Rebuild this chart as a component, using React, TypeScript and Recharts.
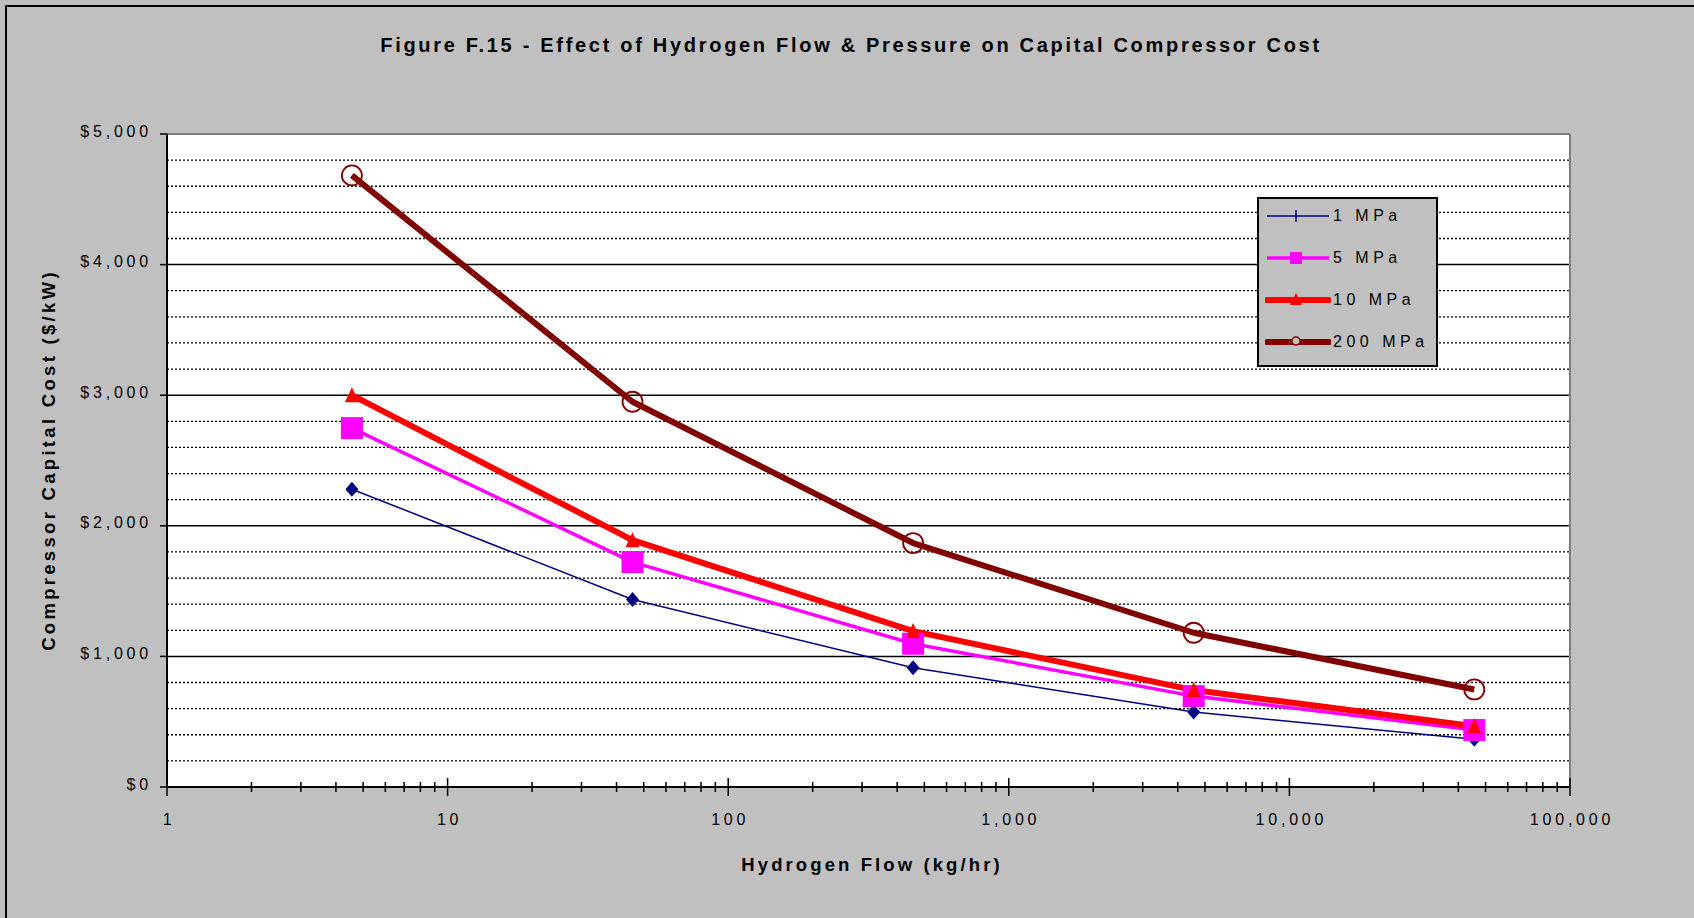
import React from 'react';
import { LineChart, Line, XAxis, YAxis, ReferenceLine, ReferenceArea, Legend } from 'recharts';

const flows = [4.56, 45.6, 456, 4560, 45600];
const mpa1 = [2280, 1436, 913, 574, 365];
const mpa5 = [2748, 1722, 1097, 696, 436];
const mpa10 = [3000, 1890, 1194, 742, 466];
const mpa200 = [4683, 2950, 1868, 1181, 747];
const seriesNames = ['1 MPa', '5 MPa', '10 MPa', '200 MPa'];
const seriesKeys = ['p1', 'p5', 'p10', 'p200'];
const seriesColors = ['#000080', '#FF00FF', '#FF0000', '#800000'];
const seriesWidths = [1.5, 3.5, 6, 6];
const yMajorTicks = [0, 1000, 2000, 3000, 4000, 5000];
const yMinorGrid = [200, 400, 600, 800, 1200, 1400, 1600, 1800, 2200, 2400, 2600, 2800, 3200, 3400, 3600, 3800, 4200, 4400, 4600, 4800];
const xTicks = [
  1, 2, 3, 4, 5, 6, 7, 8, 9,
  10, 20, 30, 40, 50, 60, 70, 80, 90,
  100, 200, 300, 400, 500, 600, 700, 800, 900,
  1000, 2000, 3000, 4000, 5000, 6000, 7000, 8000, 9000,
  10000, 20000, 30000, 40000, 50000, 60000, 70000, 80000, 90000,
  100000,
];
const xLabelTicks = [1, 10, 100, 1000, 10000, 100000];

const data = flows.map((f, i) => ({ flow: f, p1: mpa1[i], p5: mpa5[i], p10: mpa10[i], p200: mpa200[i] }));

const FONT = '"Liberation Sans", Arial, sans-serif';

const XTick = (props: any) => {
  const { x, y, payload } = props;
  const v = payload.value;
  const major = xLabelTicks.some((t) => Math.abs(t - v) / t < 1e-6);
  const h = major ? 9 : 5;
  return (
    <g>
      <line x1={x} x2={x} y1={y - h} y2={y + h} stroke="#000" strokeWidth={1.5} />
      {major && (
        <text x={x + 2} y={y + 32} textAnchor="middle" dominantBaseline="central" fontFamily={FONT} fontSize={16} letterSpacing={3.8} fill="#000">
          {Math.round(v).toLocaleString('en-US')}
        </text>
      )}
    </g>
  );
};

const YTick = (props: any) => {
  const { x, y, payload } = props;
  return (
    <text x={x + 3} y={y - 3} textAnchor="end" dominantBaseline="central" fontFamily={FONT} fontSize={16} letterSpacing={3.8} fill="#000">
      {'$' + payload.value.toLocaleString('en-US')}
    </text>
  );
};

const Diamond = (props: any) => {
  const { cx, cy } = props;
  if (cx == null || cy == null) return null;
  return <path d={`M${cx},${cy - 7.5} L${cx + 6.5},${cy} L${cx},${cy + 7.5} L${cx - 6.5},${cy} Z`} fill="#000080" />;
};
const Square = (props: any) => {
  const { cx, cy } = props;
  if (cx == null || cy == null) return null;
  return <rect x={cx - 11} y={cy - 11} width={22} height={22} fill="#FF00FF" />;
};
const Triangle = (props: any) => {
  const { cx, cy } = props;
  if (cx == null || cy == null) return null;
  return <path d={`M${cx},${cy - 8} L${cx + 7},${cy + 7} L${cx - 7},${cy + 7} Z`} fill="#FF0000" />;
};
const Circle = (props: any) => {
  const { cx, cy } = props;
  if (cx == null || cy == null) return null;
  return <circle cx={cx} cy={cy} r={10} fill="none" stroke="#800000" strokeWidth={1.8} />;
};
const dotShapes = [Diamond, Square, Triangle, Circle];

const LegendMarker = ({ i }: { i: number }) => {
  const c = seriesColors[i];
  const w = [1.5, 3.5, 6, 6][i];
  const cx = 31;
  const cy = 10;
  return (
    <svg width={66} height={20} style={{ display: 'block' }}>
      <line x1={2} x2={64} y1={cy} y2={cy} stroke={c} strokeWidth={w} strokeLinecap={i >= 2 ? 'round' : 'butt'} />
      {i === 0 && <line x1={cx} x2={cx} y1={cy - 6} y2={cy + 6} stroke={c} strokeWidth={1.5} />}
      {i === 1 && <rect x={cx - 6} y={cy - 6} width={12} height={12} fill={c} />}
      {i === 2 && <path d={`M${cx},${cy - 7} L${cx + 6},${cy + 5} L${cx - 6},${cy + 5} Z`} fill={c} />}
      {i === 3 && <circle cx={cx} cy={cy - 1} r={4} fill="#c0c0c0" stroke={c} strokeWidth={1.5} />}
    </svg>
  );
};

const LegendContent = () => (
  <div
    style={{
      width: 177,
      height: 166,
      background: '#c0c0c0',
      border: '2px solid #000',
      boxSizing: 'content-box',
      position: 'relative',
    }}
  >
    {seriesNames.map((n, i) => (
      <div key={n} style={{ position: 'absolute', left: 6, top: 7 + i * 42, display: 'flex', alignItems: 'center', height: 20 }}>
        <LegendMarker i={i} />
        <span style={{ fontFamily: FONT, fontSize: 16, letterSpacing: 4.5, marginLeft: 2, color: '#000', whiteSpace: 'nowrap' }}>{n}</span>
      </div>
    ))}
  </div>
);

export default function App() {
  return (
    <div style={{ position: 'absolute', left: 0, top: 0, width: 1694, height: 918, background: '#c0c0c0', overflow: 'hidden' }}>
      <div style={{ position: 'absolute', left: 5, top: 5, width: 1720, height: 940, borderLeft: '2px solid #000', borderTop: '2px solid #000' }} />
      <div style={{ position: 'absolute', left: 0, top: 0 }}>
        <LineChart width={1694} height={918} data={data} margin={{ top: 134, right: 124, bottom: 91, left: 107 }}>
          <XAxis
            dataKey="flow"
            type="number"
            scale="log"
            domain={[1, 100000]}
            ticks={xTicks}
            interval={0}
            allowDataOverflow
            tick={<XTick />}
            tickLine={false}
            tickSize={0}
            tickMargin={0}
            height={40}
            axisLine={{ stroke: '#000', strokeWidth: 2 }}
          />
          <YAxis
            type="number"
            domain={[0, 5000]}
            ticks={yMajorTicks}
            interval={0}
            width={60}
            tick={<YTick />}
            tickSize={7}
            tickMargin={11}
            tickLine={{ stroke: '#000', strokeWidth: 1.5 }}
            axisLine={{ stroke: '#000', strokeWidth: 2 }}
          />
          <ReferenceArea x1={1} x2={100000} y1={0} y2={5000} fill="#ffffff" fillOpacity={1} stroke="none" ifOverflow="visible" />
          {yMinorGrid.map((v) => (
            <ReferenceLine key={'m' + v} y={v} stroke="#000" strokeWidth={1.3} strokeDasharray="2 2" />
          ))}
          {yMajorTicks.slice(1, 5).map((v) => (
            <ReferenceLine key={'M' + v} y={v} stroke="#000" strokeWidth={1.5} />
          ))}
          <ReferenceLine y={5000} stroke="#808080" strokeWidth={2} />
          <ReferenceLine x={100000} stroke="#808080" strokeWidth={2} />
          {seriesKeys.map((k, i) => (
            <Line
              key={'l' + k}
              dataKey={k}
              name={seriesNames[i]}
              type="linear"
              stroke={seriesColors[i]}
              strokeWidth={seriesWidths[i]}
              strokeLinejoin="round"
              dot={false}
              activeDot={false}
              isAnimationActive={false}
            />
          ))}
          {seriesKeys.map((k, i) => {
            const Shape = dotShapes[i];
            return (
              <Line
                key={'d' + k}
                dataKey={k}
                name={seriesNames[i] + ' markers'}
                stroke="none"
                legendType="none"
                dot={<Shape />}
                activeDot={false}
                isAnimationActive={false}
              />
            );
          })}
          <Legend
            content={<LegendContent />}
            layout="vertical"
            align="center"
            verticalAlign="middle"
            wrapperStyle={{ position: 'absolute', left: 1257, top: 197, width: 181, height: 170 }}
          />
        </LineChart>
      </div>
      <div style={{ position: 'absolute', left: 851, top: 44.5, transform: 'translate(-50%,-50%)', fontFamily: FONT, fontWeight: 'bold', fontSize: 20, letterSpacing: 2.7, whiteSpace: 'nowrap', color: '#000' }}>
        Figure F.15 - Effect of Hydrogen Flow &amp; Pressure on Capital Compressor Cost
      </div>
      <div style={{ position: 'absolute', left: 872, top: 865, transform: 'translate(-50%,-50%)', fontFamily: FONT, fontWeight: 'bold', fontSize: 18.5, letterSpacing: 3.1, whiteSpace: 'nowrap', color: '#000' }}>
        Hydrogen Flow (kg/hr)
      </div>
      <div style={{ position: 'absolute', left: 48.6, top: 460, transform: 'translate(-50%,-50%) rotate(-90deg)', fontFamily: FONT, fontWeight: 'bold', fontSize: 18.5, letterSpacing: 3.3, whiteSpace: 'nowrap', color: '#000' }}>
        Compressor Capital Cost ($/kW)
      </div>
    </div>
  );
}
